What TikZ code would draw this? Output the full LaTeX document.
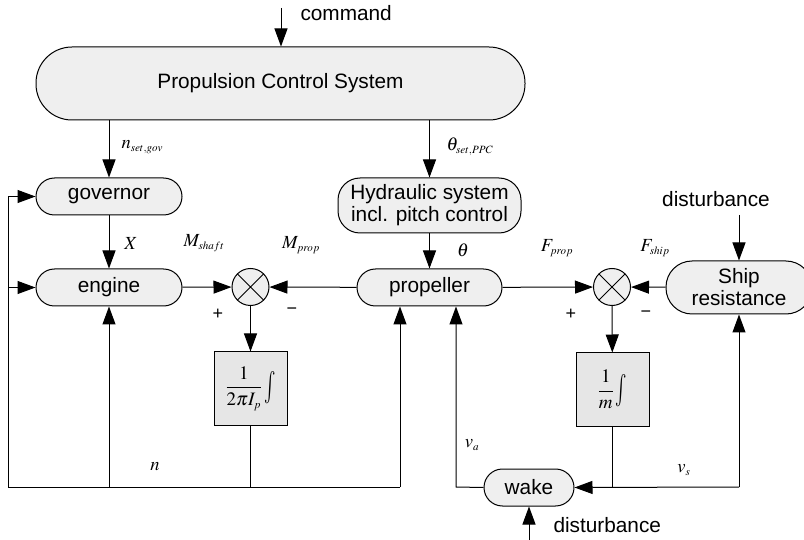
\documentclass[tikz,border=0pt]{standalone}
\usepackage{mathptmx}
\usepackage[no-math]{fontspec}
\setmainfont{Liberation Sans}
\usetikzlibrary{arrows.meta,calc}
\definecolor{boxfill}{HTML}{EFEFEF}
\definecolor{intfill}{HTML}{E6E6E6}
\newcommand{\tallint}{\vcenter{\hbox{\scalebox{1}[1.7]{$\textstyle\int$}}}}
\begin{document}
\begin{tikzpicture}[x=1pt,y=-1pt,line width=1pt,
  arr/.style={-{Triangle[length=18pt,width=13pt]}},
  blk/.style={draw, fill=boxfill, rounded corners=18.5pt, minimum height=37pt, minimum width=146pt, inner sep=0pt, align=center, font=\fontsize{20.8}{23}\selectfont},
  sumnode/.style={draw, fill=boxfill, circle, minimum size=37pt, inner sep=0pt,
    path picture={\draw[line width=1pt] (path picture bounding box.north west) -- (path picture bounding box.south east) (path picture bounding box.north east) -- (path picture bounding box.south west);}},
  intbox/.style={draw, fill=intfill, minimum width=73pt, minimum height=73pt, inner sep=0pt, font=\fontsize{19}{22}\selectfont},
  lab/.style={inner sep=0pt, font=\fontsize{18.5}{20}\selectfont},
  txt/.style={inner sep=0pt, font=\fontsize{20.8}{23}\selectfont},
  sgn/.style={inner sep=0pt, font=\fontsize{18}{19}\selectfont}]
\useasboundingbox (0,0) rectangle (804,540);
% blocks
\node[blk, minimum width=489pt, minimum height=73pt, rounded corners=36pt] (pcs) at (280.5,83.5) {Propulsion Control System};
\node[blk] (gov) at (109,196.5) {governor};
\node[blk] (eng) at (109,287.5) {engine};
\node[blk, minimum width=183pt, minimum height=55pt, rounded corners=22pt, font=\fontsize{20.8}{22}\selectfont] (hyd) at (429.5,205.5) {Hydraulic system\\incl. pitch control};
\node[blk, minimum width=145pt] (prop) at (429.5,287.5) {propeller};
\node[blk, minimum height=53pt, rounded corners=26pt, font=\fontsize{20.8}{22}\selectfont] (ship) at (739,287.5) {Ship\\resistance};
\node[blk, minimum width=90pt] (wake) at (529,487.5) {wake};
\node[sumnode] (s1) at (250.5,287) {};
\node[sumnode] (s2) at (612,287) {};
\node[intbox] (b1) at (250.5,388.5) {$\displaystyle\frac{1}{2\pi I_{\scriptscriptstyle p}}\,\tallint$};
\node[intbox] (b2) at (612.5,389.5) {$\displaystyle\frac{1}{m}\,\tallint$};
% inputs
\coordinate (cmd) at (281,8);
\draw[arr] (cmd) -- (cmd |- pcs.north);
\node[txt, anchor=west] (cmdt) at (300,13) {command};
\draw[arr] (gov.north |- pcs.south) -- (gov.north);
\draw[arr] (hyd.north |- pcs.south) -- (hyd.north);
\draw[arr] (gov) -- (eng);
\draw[arr] (hyd) -- (prop);
\draw[arr] (eng) -- (s1);
\draw[arr] (prop) -- (s1);
\draw[arr] (s1) -- (b1);
\draw[arr] (prop) -- (s2);
\draw[arr] (ship) -- (s2);
\draw[arr] (s2) -- (b2);
% bottom left loop
\coordinate (bl) at (8,487);
\coordinate (nb) at (400,487);
\draw (b1.south) -- (b1.south |- bl);
\draw (bl) -- (nb);
\draw[arr] (nb) -- (nb |- prop.south);
\draw[arr] (bl) |- (gov.west);
\draw[arr] (bl |- eng.west) -- (eng.west);
\draw[arr] (eng.south |- bl) -- (eng.south);
% bottom right loop
\coordinate (br) at (739,487);
\coordinate (va) at (456,487);
\draw (b2.south) -- (b2.south |- br);
\draw[arr] (br) -- (wake.east);
\draw[arr] (br) -- (br |- ship.south);
\draw[arr] (wake.west) -- (va) -- (va |- prop.south);
% disturbances
\coordinate (d1) at (739,215);
\draw[arr] (d1) -- (d1 |- ship.north);
\node[txt] (dt1) at (716,199) {disturbance};
\coordinate (d2) at (529,542);
\draw[arr] (d2) -- (wake.south);
\node[txt, anchor=west] (dt2) at (553,525) {disturbance};
% labels
\node[lab, anchor=west] (lnset) at (121,147) {$n_{\scriptscriptstyle set,gov}$};
\node[lab, anchor=west] (lthset) at (446,147) {$\theta_{\scriptscriptstyle set,PPC}$};
\node[lab] (lx) at (131,243) {$X$};
\node[lab] (lms) at (204,243) {$M_{\scriptscriptstyle shaft}$};
\node[lab] (lmp) at (301,245) {$M_{\scriptscriptstyle prop}$};
\node[lab] (lth) at (463,250) {$\theta$};
\node[lab] (lfp) at (557,248) {$F_{\scriptscriptstyle prop}$};
\node[lab] (lfs) at (655,248) {$F_{\scriptscriptstyle ship}$};
\node[lab] (ln) at (155,467) {$n$};
\node[lab] (lva) at (472,445) {$v_{\scriptscriptstyle a}$};
\node[lab] (lvs) at (684,470) {$v_{\scriptscriptstyle s}$};
\node[sgn] (p1) at (218,314) {+};
\node[sgn] (m1) at (292,311) {−};
\node[sgn] (p2) at (571,314) {+};
\node[sgn] (m2) at (646,314) {−};
\end{tikzpicture}
\end{document}
